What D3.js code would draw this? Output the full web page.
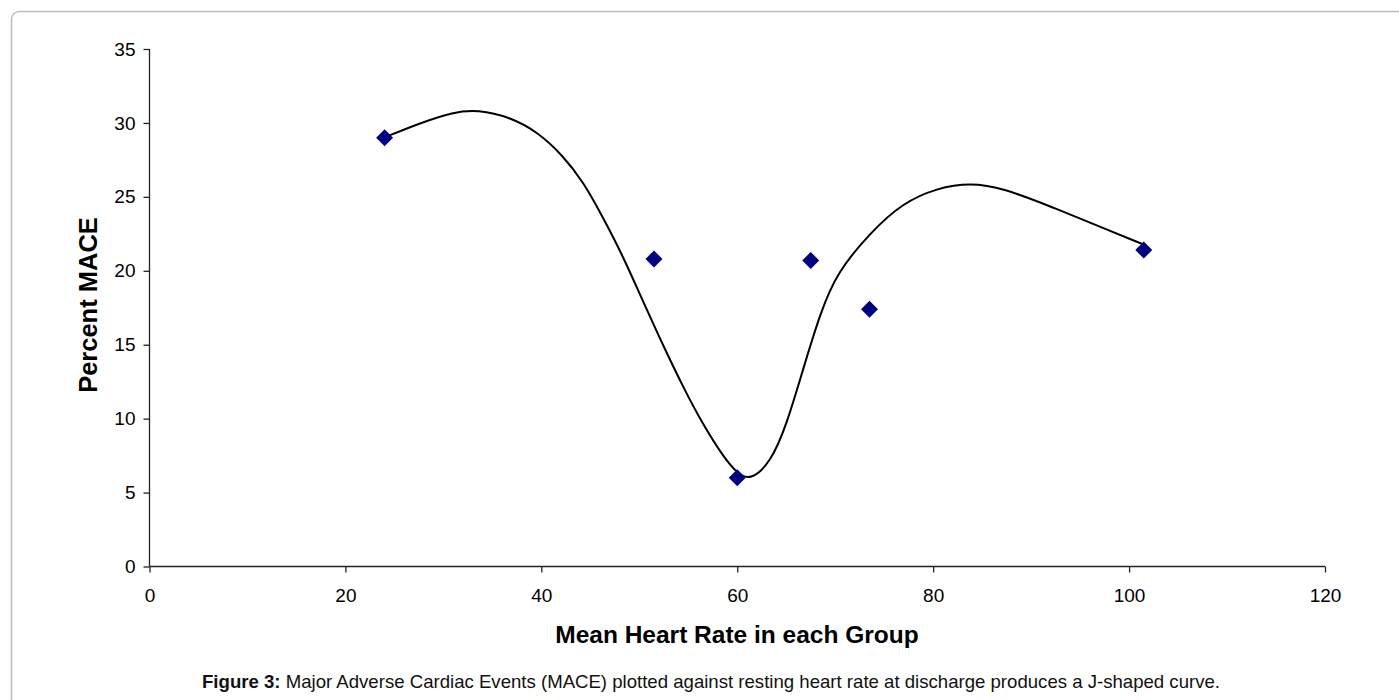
<!DOCTYPE html>
<html>
<head>
<meta charset="utf-8">
<script src="https://cdn.jsdelivr.net/npm/d3@7"></script>
<style>
  html, body { margin: 0; padding: 0; background: #fff; }
  svg { display: block; }
</style>
</head>
<body>
<svg id="chart" width="1399" height="700"></svg>
<script>
// ---- data ----
const heartRate = [24, 51.5, 60, 67.5, 73.5, 101.5];
const maceValues = [29, 20.8, 6, 20.7, 17.4, 21.4];

// trend curve
const curveX = [24.1, 27.65, 31.0, 33.5, 36.8, 39.6, 42.2, 44.3, 46.3, 48.4, 50.4, 52.4, 54.5, 56.5, 58.6, 60.0, 61.3, 63.4, 65.1, 66.7, 68.5, 70.2, 73.6, 76.9, 80.4, 83.8, 87.1, 92.2, 97.3, 101.4];
const curveY = [29.05, 30.0, 30.74, 30.9, 30.4, 29.4, 27.8, 26.0, 23.6, 20.9, 17.9, 15.0, 12.1, 9.6, 7.4, 6.3, 5.8, 7.0, 9.7, 13.3, 17.2, 19.9, 22.6, 24.6, 25.6, 25.95, 25.6, 24.3, 22.9, 21.8];

const xTicks = [0, 20, 40, 60, 80, 100, 120];
const yTicks = [0, 5, 10, 15, 20, 25, 30, 35];

const xTitle = "Mean Heart Rate in each Group";
const yTitle = "Percent MACE";
const captionBold = "Figure 3:";
const captionText = " Major Adverse Cardiac Events (MACE) plotted against resting heart rate at discharge produces a J-shaped curve.";

// ---- layout ----
const svg = d3.select("#chart");
const font = "Arial, 'Liberation Sans', Helvetica, sans-serif";

// frame
svg.append("rect")
  .attr("x", 11.5).attr("y", 11.5)
  .attr("width", 1420).attr("height", 720)
  .attr("rx", 8).attr("ry", 8)
  .attr("fill", "none")
  .attr("stroke", "#bdbdbd")
  .attr("stroke-width", 1.5);

const x = d3.scaleLinear().domain([0, 120]).range([149.5, 1325]);
const y = d3.scaleLinear().domain([0, 35]).range([566.5, 49]);

// axes
const xAxis = svg.append("g")
  .attr("transform", `translate(0,${y(0)})`)
  .call(d3.axisBottom(x).tickValues(xTicks).tickSize(6).tickPadding(16));
const yAxis = svg.append("g")
  .attr("transform", `translate(${x(0)},0)`)
  .call(d3.axisLeft(y).tickValues(yTicks).tickSize(6).tickPadding(8));

[xAxis, yAxis].forEach(g => {
  g.select(".domain").attr("stroke", "#222").attr("stroke-width", 1.3);
  g.selectAll(".tick line").attr("stroke", "#222").attr("stroke-width", 1.3);
  g.selectAll(".tick text")
    .attr("fill", "#000")
    .style("font-family", font)
    .style("font-size", "19px");
});
xAxis.select(".domain").attr("d", `M${x(0)},0H${x(120)}`);
yAxis.select(".domain").attr("d", `M0,${y(0)}V${y(35)}`);

// trend curve
const curvePts = curveX.map((v, i) => [v, curveY[i]]);
svg.append("path")
  .datum(curvePts)
  .attr("fill", "none")
  .attr("stroke", "#000")
  .attr("stroke-width", 2)
  .attr("d", d3.line()
    .x(d => x(d[0]))
    .y(d => y(d[1]))
    .curve(d3.curveBasis));

// points
const pts = heartRate.map((v, i) => [v, maceValues[i]]);
svg.append("g").selectAll("path")
  .data(pts)
  .join("path")
  .attr("transform", d => `translate(${x(d[0])},${y(d[1])}) rotate(45)`)
  .attr("d", d3.symbol().type(d3.symbolSquare).size(144))
  .attr("fill", "#000080");

// axis titles
svg.append("text")
  .attr("x", 737)
  .attr("y", 643)
  .attr("text-anchor", "middle")
  .style("font-family", font)
  .style("font-weight", "bold")
  .style("font-size", "24.5px")
  .text(xTitle);

svg.append("text")
  .attr("transform", `translate(97,305) rotate(-90)`)
  .attr("text-anchor", "middle")
  .style("font-family", font)
  .style("font-weight", "bold")
  .style("font-size", "25.5px")
  .text(yTitle);

// caption
const cap = svg.append("text")
  .attr("x", 711)
  .attr("y", 688)
  .attr("text-anchor", "middle")
  .style("font-family", font)
  .style("font-size", "18.6px")
  .attr("fill", "#111");
cap.append("tspan").style("font-weight", "bold").text(captionBold);
cap.append("tspan").text(captionText);
</script>
</body>
</html>
